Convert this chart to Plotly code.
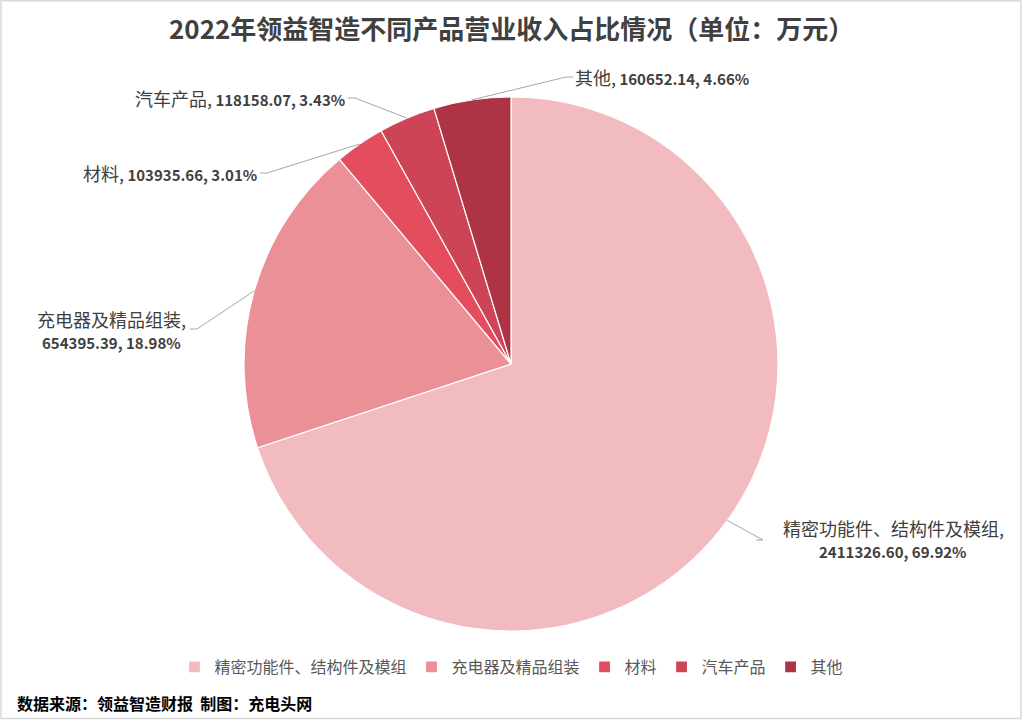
import math
import plotly.graph_objects as go

# ---- data ----
categories = ["精密功能件、结构件及模组", "充电器及精品组装", "材料", "汽车产品", "其他"]
values = [2411326.60, 654395.39, 103935.66, 118158.07, 160652.14]
percents = ["69.92%", "18.98%", "3.01%", "3.43%", "4.66%"]
colors = ["#F2BBC0", "#EA9096", "#E34D5E", "#CC4455", "#AE3344"]

W, H = 1023, 720
CX, CY, R = 511, 364, 267

# label layout (pixel positions of the label text anchor), style only
label_layout = [
    dict(x=893, y=528, xanchor="center", elbow=(763, 540), two=True),
    dict(x=111, y=319, xanchor="center", elbow=(197, 329), two=True),
    dict(x=259, y=173, xanchor="right", elbow=(267, 173), two=False),
    dict(x=347, y=98, xanchor="right", elbow=(355, 98), two=False),
    dict(x=573, y=77, xanchor="left", elbow=(566, 77), two=False),
]
LINE_GAP = 23

def px(x):
    return x / W

def py(y):
    return 1 - y / H

fig = go.Figure()
fig.add_trace(go.Pie(
    labels=categories,
    values=values,
    sort=False,
    direction="clockwise",
    rotation=0,
    textinfo="none",
    hoverinfo="label+value+percent",
    marker=dict(colors=colors, line=dict(color="white", width=1.2)),
    domain=dict(x=[px(CX - R), px(CX + R)], y=[py(CY + R), py(CY - R)]),
    showlegend=True,
))

total = sum(values)
cum = 0.0
annotations = []
shapes = []
lab_font = dict(family="Noto Sans CJK SC", size=15, color="#404040")
for cat, val, pct, lay in zip(categories, values, percents, label_layout):
    mid = (cum + val / 2) / total * 2 * math.pi
    cum += val
    ex = CX + R * math.sin(mid)
    ey = CY - R * math.cos(mid)
    num = f"{val:.2f}"
    cat_html = f"<span style='font-size:18px'>{cat},</span>"
    if lay["two"]:
        annotations.append(dict(
            x=px(lay["x"]), y=py(lay["y"]), xref="paper", yref="paper",
            text=cat_html, showarrow=False, xanchor="center", yanchor="middle",
            font=lab_font,
        ))
        annotations.append(dict(
            x=px(lay["x"]), y=py(lay["y"] + LINE_GAP), xref="paper", yref="paper",
            text=f"<b>{num}, {pct}</b>", showarrow=False, xanchor="center", yanchor="middle",
            font=lab_font,
        ))
    else:
        annotations.append(dict(
            x=px(lay["x"]), y=py(lay["y"]), xref="paper", yref="paper",
            text=f"{cat_html} <b>{num}, {pct}</b>", showarrow=False,
            xanchor=lay["xanchor"], yanchor="middle", font=lab_font,
        ))
    bx, by = lay["elbow"]
    hx = bx + 7 if lay["xanchor"] == "left" else bx - 7
    shapes.append(dict(
        type="path", xref="paper", yref="paper",
        path=f"M {px(hx)},{py(by)} L {px(bx)},{py(by)} L {px(ex)},{py(ey)}",
        line=dict(color="#A6A6A6", width=1),
    ))

# title
annotations.append(dict(
    x=px(511), y=py(28), xref="paper", yref="paper",
    text="<b>2022年领益智造不同产品营业收入占比情况（单位：万元）</b>",
    showarrow=False, xanchor="center", yanchor="middle",
    font=dict(family="Noto Sans CJK SC", size=26, color="#404040"),
))
# footer
annotations.append(dict(
    x=px(15), y=py(703), xref="paper", yref="paper",
    text="<b>数据来源：领益智造财报  制图：充电头网</b>",
    showarrow=False, xanchor="left", yanchor="middle",
    font=dict(family="Noto Sans CJK SC", size=16, color="#000000"),
))

# border
shapes.append(dict(type="rect", xref="paper", yref="paper", x0=0.001, y0=0.002, x1=0.998, y1=0.999,
                   line=dict(color="#D9D9D9", width=1.5)))

fig.update_layout(
    width=W, height=H,
    margin=dict(l=0, r=0, t=0, b=0),
    paper_bgcolor="white",
    plot_bgcolor="white",
    annotations=annotations,
    shapes=shapes,
    legend=dict(
        orientation="h", x=0.5, xanchor="center", y=py(667), yanchor="middle",
        font=dict(family="Noto Sans CJK SC", size=16, color="#595959"),
        itemwidth=30, tracegroupgap=0,
    ),
)

fig.write_html("out.html")
